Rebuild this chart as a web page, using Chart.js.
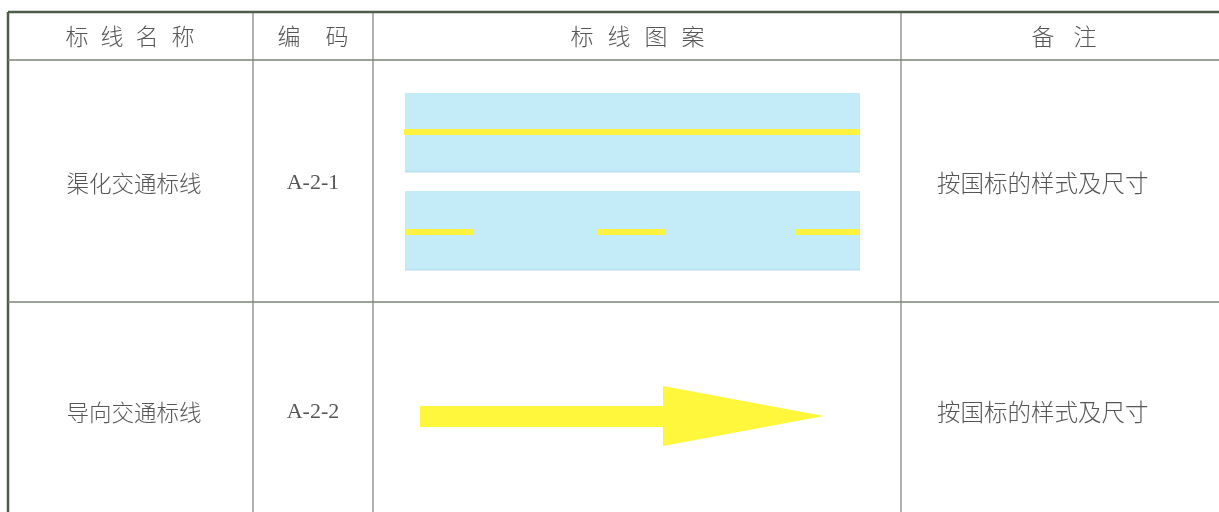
<!DOCTYPE html>
<html>
<head>
<meta charset="utf-8">
<script src="https://cdn.jsdelivr.net/npm/chart.js@4.4.1/dist/chart.umd.min.js"></script>
<style>
  html, body { margin: 0; padding: 0; background: #fff; }
  #wrap { width: 1219px; height: 512px; }
</style>
</head>
<body>
<div id="wrap"><canvas id="table" width="1219" height="512"></canvas></div>
<script>
// table grid (scale units = page pixels)
const colEdges = [8, 253, 373, 901];
const rowEdges = [12, 60, 302];
const colCenters = [130, 313, 637, 1065];
const rowCenters = [183, 412];

// texts
const headers = [['标', '线', '名', '称'], ['编', '码'], ['标', '线', '图', '案'], ['备', '注']];
const headerCharX = [[77, 112, 147, 183], [289, 337], [582, 619, 656, 693], [1043, 1085]];
const rowNames = ['渠化交通标线', '导向交通标线'];
const codes = ['A-2-1', 'A-2-2'];
const notes = ['按国标的样式及尺寸', '按国标的样式及尺寸'];

// lane pattern
const laneX = [405, 860];
const laneBands = [[93, 172], [191, 270]];
const solidLineY = 132;
const dashY = 232;
const dashes = [[405, 473], [598, 666], [795, 860]];

// guide arrow
const shaftX = [420, 664];
const shaftY = [406, 427];
const headPts = [[663, 386], [824, 416], [663, 446]];

const gridColor = '#7a8474';
const edgeColor = '#4d5c46';
const laneBlue = '#c3ecf8';
const lineYellow = '#fff23e';
const arrowYellow = '#fff73c';

function seg(pts, color, width, extra) {
    return Object.assign({
        data: pts.map(p => ({ x: p[0], y: p[1] })),
        borderColor: color,
        borderWidth: width,
        pointRadius: 0,
        fill: false,
        borderCapStyle: 'butt',
        tension: 0
    }, extra || {});
}

// lower index is drawn on top, so grid and markings go first
const datasets = [];

// grid lines
datasets.push(seg([[colEdges[0], rowEdges[0]], [1219, rowEdges[0]]], edgeColor, 2.5));
datasets.push(seg([[colEdges[0], rowEdges[1]], [1219, rowEdges[1]]], gridColor, 1.6));
datasets.push(seg([[colEdges[0], rowEdges[2]], [1219, rowEdges[2]]], gridColor, 1.6));
datasets.push(seg([[colEdges[0], rowEdges[0]], [colEdges[0], 512]], edgeColor, 2.5));
colEdges.slice(1).forEach(x => datasets.push(seg([[x, rowEdges[0]], [x, 512]], gridColor, 1.2)));

// yellow markings
datasets.push(seg([[laneX[0] - 1, solidLineY], [laneX[1], solidLineY]], lineYellow, 6));
dashes.forEach(d => datasets.push(seg([[d[0], dashY], [d[1], dashY]], lineYellow, 6)));

// arrow
datasets.push(seg([[shaftX[0], shaftY[1]], [shaftX[1], shaftY[1]]], arrowYellow, 0,
    { fill: { value: shaftY[0] }, backgroundColor: arrowYellow }));
datasets.push(seg(headPts.concat([headPts[0]]), arrowYellow, 0,
    { fill: 'shape', backgroundColor: arrowYellow }));

// lane bands (bottom layer)
laneBands.forEach(b => {
    datasets.push(seg([[laneX[0], b[1]], [laneX[1], b[1]]], 'rgba(150,200,220,0.6)', 1,
        { fill: { value: b[0] }, backgroundColor: laneBlue }));
});

const textPlugin = {
    id: 'tableText',
    afterDatasetsDraw(chart) {
        const { ctx, scales: { x, y } } = chart;
        ctx.save();
        ctx.fillStyle = '#555';
        ctx.textAlign = 'center';
        ctx.textBaseline = 'middle';
        ctx.font = '300 23px "Noto Sans CJK SC"';
        const hy = y.getPixelForValue((rowEdges[0] + rowEdges[1]) / 2);
        headers.forEach((chars, i) => {
            chars.forEach((c, j) => ctx.fillText(c, x.getPixelForValue(headerCharX[i][j]), hy));
        });
        rowCenters.forEach((rc, r) => {
            const py = y.getPixelForValue(rc);
            ctx.font = '300 22.5px "Noto Sans CJK SC"';
            ctx.fillText(rowNames[r], x.getPixelForValue(colCenters[0] + 4), py);
            ctx.font = '22px "Liberation Serif"';
            ctx.fillText(codes[r], x.getPixelForValue(colCenters[1]), py);
            ctx.font = '300 23.5px "Noto Sans CJK SC"';
            ctx.textAlign = 'left';
            ctx.fillText(notes[r], x.getPixelForValue(937), py);
            ctx.textAlign = 'center';
        });
        ctx.restore();
    }
};

new Chart(document.getElementById('table'), {
    type: 'line',
    data: { datasets },
    options: {
        responsive: false,
        animation: false,
        layout: { padding: 0 },
        plugins: { legend: { display: false }, tooltip: { enabled: false } },
        scales: {
            x: { type: 'linear', min: 0, max: 1219, display: false },
            y: { type: 'linear', min: 0, max: 512, reverse: true, display: false }
        }
    },
    plugins: [textPlugin]
});
</script>
</body>
</html>
